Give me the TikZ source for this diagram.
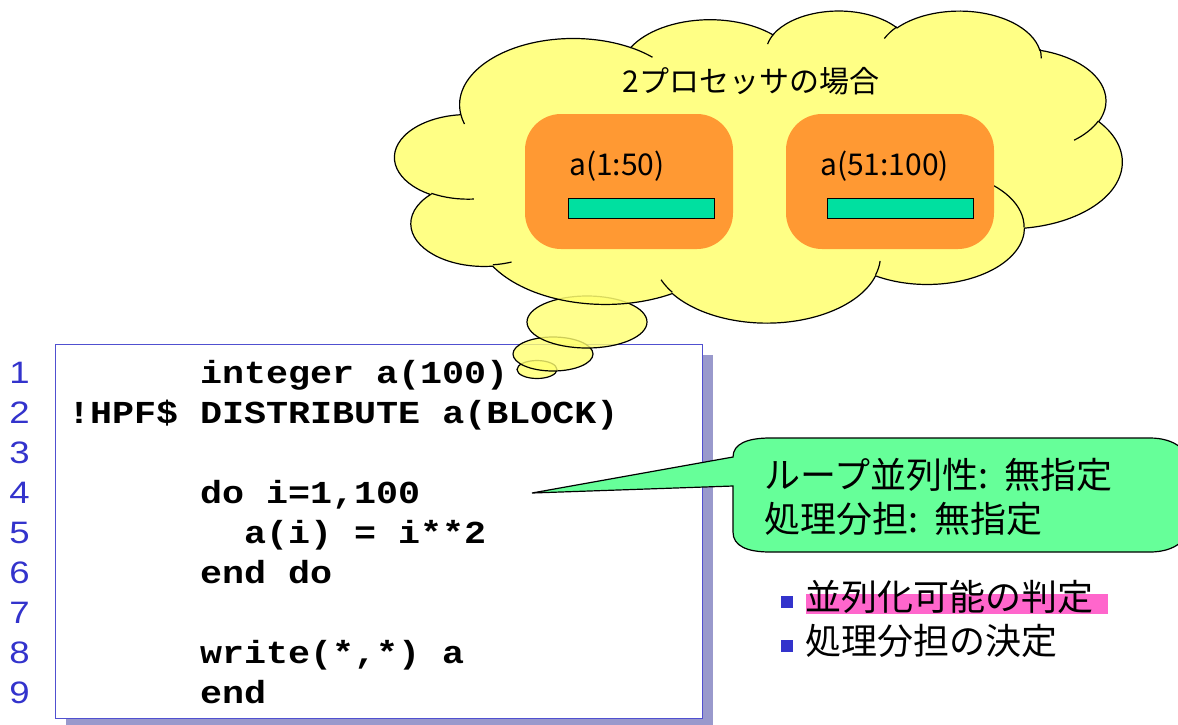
\documentclass[tikz,border=0pt]{standalone}
\usepackage{graphicx}
\usepackage{fontspec}
\setmainfont{Liberation Sans}
\newfontfamily\jpfont{Noto Sans CJK JP}
\newfontfamily\codefont{Liberation Mono}
\usetikzlibrary{shapes.geometric}

\definecolor{cloudfill}{HTML}{FFFF70}
\definecolor{procorange}{HTML}{FF9933}
\definecolor{barteal}{HTML}{00E0A0}
\definecolor{calloutgreen}{HTML}{66FF99}
\definecolor{numblue}{HTML}{3333CC}
\definecolor{boxblue}{HTML}{5050D0}
\definecolor{shadowlav}{HTML}{9999CC}
\definecolor{marker}{HTML}{FF66CC}

% wide type for the listing and its line numbers
\newcommand\codetext[1]{\scalebox{1.146}[1]{#1}}
\newcommand\numtext[1]{\scalebox{1.18}[1]{#1}}

\tikzset{
  linenum/.style={anchor=base, inner sep=0, text=numblue, font=\fontsize{31}{31}\selectfont},
  codeline/.style={anchor=base west, inner sep=0, font=\codefont\bfseries\fontsize{32}{32}\selectfont},
  bubble/.style={ellipse, draw, line width=1.2pt, fill=cloudfill, fill opacity=0.8, inner sep=0},
  procbox/.style={rectangle, rounded corners=36pt, fill=procorange, inner sep=0},
  databar/.style={rectangle, draw, line width=1pt, fill=barteal, inner sep=0, minimum width=146pt, minimum height=20pt},
  jplabel/.style={inner sep=0, font=\jpfont\fontsize{30}{30}\selectfont},
  jptext/.style={anchor=base west, inner sep=0, font=\jpfont\fontsize{36}{36}\selectfont},
  bulletsq/.style={rectangle, fill=numblue, inner sep=0, minimum size=12pt},
  % elliptic arc given by radii, start angle and sweep measured as ray angles
  ellarc/.code n args={4}{%
    \pgfmathsetmacro\arcta{atan2((#1)*sin(#3),(#2)*cos(#3))}%
    \pgfmathsetmacro\arctb{atan2((#1)*sin((#3)+(#4)),(#2)*cos((#3)+(#4)))}%
    \pgfmathsetmacro\arctb{\arctb<\arcta ? \arctb+360 : \arctb}%
    \tikzset{start angle=\arcta, end angle=\arctb, x radius=#1, y radius=#2}},
}

\begin{document}
\begin{tikzpicture}[x=1pt,y=-1pt]
\useasboundingbox (0,0) rectangle (1178,724);

% program listing with its drop shadow
\fill[shadowlav] (66,355) rectangle (713,730);
\node[draw=boxblue, line width=1pt, fill=white, anchor=north west, inner sep=0,
      minimum width=647pt, minimum height=374pt] (codebox) at (55,344) {};

\foreach \i in {1,...,9}
  \node[linenum] (n\i) at (19.5,{383+40*(\i-1)}) {\numtext{\i}};

\def\cw{22}
\node[codeline] (c1) at ({68+6*\cw},383) {\codetext{integer a(100)}};
\node[codeline] (c2) at (68,423)         {\codetext{!HPF\$ DISTRIBUTE a(BLOCK)}};
\node[codeline] (c4) at ({68+6*\cw},503) {\codetext{do i=1,100}};
\node[codeline] (c5) at ({68+8*\cw},543) {\codetext{a(i) = i**2}};
\node[codeline] (c6) at ({68+6*\cw},583) {\codetext{end do}};
\node[codeline] (c8) at ({68+6*\cw},663) {\codetext{write(*,*) a}};
\node[codeline] (c9) at ({68+6*\cw},703) {\codetext{end}};

% thought bubbles, smallest first
\node[bubble, minimum width=40pt, minimum height=18pt]  (b3) at (537,369.5) {};
\node[bubble, minimum width=80pt, minimum height=34pt]  (b2) at (553,354) {};
\node[bubble, minimum width=120pt, minimum height=52pt] (b1) at (587,322) {};

% the cloud, built from eleven elliptic puffs in a 432 x 432 frame
\begin{scope}[shift={(395,10)}, x=1.6829pt, y=-0.7222pt, line width=1.2pt]
  \draw[fill=cloudfill, fill opacity=0.85]
    (39.00,143.70)
    arc[ellarc={67.53}{91.90}{-190.4875}{123.7805}]
    arc[ellarc={53.33}{72.67}{-144.1024}{89.9452}]
    arc[ellarc={43.65}{59.45}{-145.8079}{99.7230}]
    arc[ellarc={48.57}{65.95}{-130.9861}{117.2417}]
    arc[ellarc={53.33}{72.73}{-78.7089}{109.0269}]
    arc[ellarc={67.75}{92.20}{-46.2673}{130.2690}]
    arc[ellarc={57.85}{78.67}{0.6250}{114.0333}]
    arc[ellarc={67.52}{92.15}{22.4516}{115.1726}]
    arc[ellarc={77.20}{105.43}{66.2426}{75.7110}]
    arc[ellarc={43.60}{59.18}{-274.9421}{146.7356}]
    arc[ellarc={43.45}{59.45}{-246.8285}{152.5189}]
    -- cycle;
  % short tails of the puffs reaching into the cloud
  \draw (46.93,261.77) arc[ellarc={43.45}{59.45}{86.7420}{26.4295}];
  \draw (69.28,348.99) arc[ellarc={43.60}{59.18}{73.6105}{11.4475}];
  \draw (164.78,390.90) arc[ellarc={67.52}{92.15}{137.6242}{14.0811}];
  \draw (288.27,347.51) arc[ellarc={67.52}{92.15}{6.4533}{15.9984}];
  \draw (341.29,229.54) arc[ellarc={57.85}{78.67}{-70.2924}{70.9174}];
  \draw (417.98,153.54) arc[ellarc={53.33}{72.73}{30.3180}{27.7515}];
  \draw (383.24,54.26) arc[ellarc={48.57}{65.95}{-13.7443}{14.8589}];
  \draw (290.78,39.52) arc[ellarc={48.57}{65.95}{-149.1815}{18.1954}];
  \draw (221.41,47.20) arc[ellarc={43.65}{59.45}{-163.4943}{17.6864}];
  \draw (140.00,51.92) arc[ellarc={67.53}{91.90}{-66.7070}{12.3194}];
  \draw (41.27,157.89) arc[ellarc={67.53}{91.90}{157.6544}{11.8582}];
\end{scope}

\node[jplabel] (title) at (751,81) {2プロセッサの場合};

\node[procbox, minimum width=208pt, minimum height=135pt] (p1) at (629,181.5) {};
\node[procbox, minimum width=208pt, minimum height=135pt] (p2) at (890,181.5) {};
\node[jplabel, anchor=west] (l1) at (569,166) {a(1:50)};
\node[jplabel, anchor=west] (l2) at (820,166) {a(51:100)};
\node[databar] (d1) at (641.5,208.5) {};
\node[databar] (d2) at (900,208.5) {};

% speech callout pointing at the loop
\coordinate (tip) at (532,493);
\draw[line width=1.2pt, fill=calloutgreen]
  (tip) -- (733,457)
  .. controls (733,444) and (747,438) .. (770,438)
  -- (1150,438)
  .. controls (1174,438) and (1190,450) .. (1190,468)
  -- (1190,522)
  .. controls (1190,540) and (1174,552) .. (1150,552)
  -- (770,552)
  .. controls (747,552) and (733,546) .. (733,532)
  -- (733,486) -- cycle;
\node[jptext] (t1) at (764,488) {ループ並列性{:}\hspace{0.45em}無指定};
\node[jptext] (t2) at (764,532) {処理分担{:}\hspace{0.45em}無指定};

% checklist
\fill[marker] (806,594) rectangle (1108,614);
\node[bulletsq] (s1) at (786.5,601.5) {};
\node[bulletsq] (s2) at (786.5,645.5) {};
\node[jptext] (u1) at (805,610) {並列化可能の判定};
\node[jptext] (u2) at (805,654) {処理分担の決定};
\end{tikzpicture}
\end{document}
